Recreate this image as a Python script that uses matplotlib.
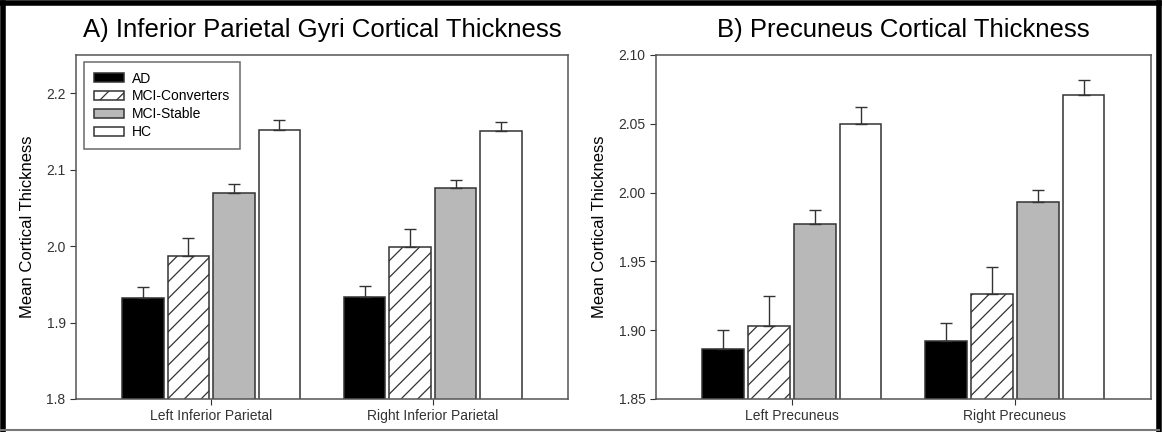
import matplotlib.pyplot as plt
from matplotlib.lines import Line2D
import numpy as np

plt.rcParams['font.family'] = ['Liberation Sans', 'DejaVu Sans']
plt.rcParams['hatch.linewidth'] = 0.9

groups = ['AD', 'MCI-Converters', 'MCI-Stable', 'HC']

ipg_regions = ['Left Inferior Parietal', 'Right Inferior Parietal']
ipg_mean = [[1.932, 1.934],   # AD
            [1.987, 1.999],   # MCI-Converters
            [2.070, 2.076],   # MCI-Stable
            [2.152, 2.150]]   # HC
ipg_err = [[0.015, 0.014],
           [0.023, 0.023],
           [0.011, 0.010],
           [0.013, 0.013]]

pcu_regions = ['Left Precuneus', 'Right Precuneus']
pcu_mean = [[1.886, 1.892],
            [1.903, 1.926],
            [1.977, 1.993],
            [2.050, 2.071]]
pcu_err = [[0.014, 0.013],
           [0.022, 0.020],
           [0.010, 0.009],
           [0.012, 0.011]]

styles = [dict(facecolor='black', hatch=None),
          dict(facecolor='white', hatch='//'),
          dict(facecolor='#b8b8b8', hatch=None),
          dict(facecolor='white', hatch=None)]


def draw_panel(ax, regions, means, errs, title, ylim, yticks, fmt):
    x = np.arange(1, len(regions) + 1)
    step = 0.205
    width = 0.1875
    for i, g in enumerate(groups):
        pos = x + (i - 1.5) * step
        ax.bar(pos, means[i], width, label=g, edgecolor='#333333',
               linewidth=1.1, zorder=2, **styles[i])
        ax.errorbar(pos, means[i], yerr=[np.zeros(len(regions)), errs[i]],
                    fmt='none', ecolor='#333333', elinewidth=1.0,
                    capsize=4, capthick=1.0, zorder=3)
    ax.set_xlim(0.39, 2.61)
    ax.set_ylim(*ylim)
    ax.set_yticks(yticks)
    ax.set_yticklabels([fmt.format(t) for t in yticks])
    ax.set_xticks(x)
    ax.set_xticklabels(regions)
    ax.tick_params(axis='both', labelsize=10, colors='#333333',
                   length=4, width=0.8)
    for s in ax.spines.values():
        s.set_color('#555555')
        s.set_linewidth(1.1)
    ax.set_ylabel('Mean Cortical Thickness', fontsize=12, labelpad=8)
    ax.set_title(title, fontsize=18.5, pad=13)


fig = plt.figure(figsize=(11.62, 4.32), dpi=100)
ax_a = fig.add_axes([0.0654, 0.0764, 0.4234, 0.7963])
ax_b = fig.add_axes([0.5645, 0.0764, 0.4260, 0.7963])

draw_panel(ax_a, ipg_regions, ipg_mean, ipg_err,
           'A) Inferior Parietal Gyri Cortical Thickness',
           (1.8, 2.25), [1.8, 1.9, 2.0, 2.1, 2.2], '{:.1f}')
draw_panel(ax_b, pcu_regions, pcu_mean, pcu_err,
           'B) Precuneus Cortical Thickness',
           (1.85, 2.10), [1.85, 1.90, 1.95, 2.00, 2.05, 2.10], '{:.2f}')

leg = ax_a.legend(loc='upper left', fontsize=10, frameon=True, fancybox=False,
                  handlelength=2.2, handleheight=0.6, borderpad=0.7,
                  labelspacing=0.28, handletextpad=0.55, borderaxespad=0,
                  bbox_to_anchor=(0.016, 0.98))
leg.get_frame().set_edgecolor('#444444')
leg.get_frame().set_linewidth(1.1)

# outer frame
fig.add_artist(Line2D([0.003, 0.003], [0.0, 0.993], color='black', lw=4))
fig.add_artist(Line2D([0.0, 0.997], [0.993, 0.993], color='black', lw=4))
fig.add_artist(Line2D([0.997, 0.997], [0.0, 0.993], color='black', lw=4))
fig.add_artist(Line2D([0.0, 0.997], [0.004, 0.004], color='#777777', lw=1.5))

fig.savefig('out.png', dpi=100)
